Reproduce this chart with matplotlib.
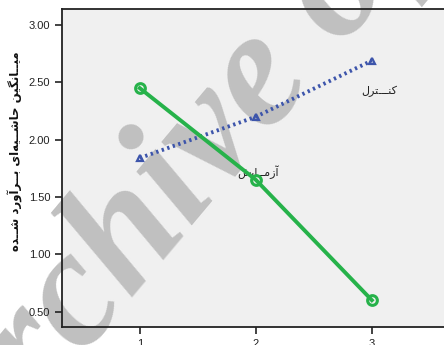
import matplotlib
matplotlib.use("Agg")
import matplotlib.pyplot as plt
from matplotlib.patches import Rectangle

plt.rcParams['font.family'] = ['Liberation Sans', 'DejaVu Sans']

# data
x = [1, 2, 3]
azmayesh = [2.45, 1.65, 0.60]   # green
control = [1.84, 2.20, 2.69]    # blue dotted
yticks = [0.5, 1.0, 1.5, 2.0, 2.5, 3.0]


def shape(codes):
    # pre-shaped persian (presentation forms), reversed for LTR drawing
    return ''.join(chr(c) for c in codes)[::-1]


K = 0x0640
lbl_control = shape([0xFB90, 0xFEE8, K, K, K, 0xFE98, 0xFEAE, 0xFEDD])
lbl_azm = shape([0xFE81, 0xFEAF, 0xFEE3, K, K, 0xFE8E, 0xFEF3, 0xFEB6])
ylab = shape([0xFEE3, 0xFEF4, K, K, 0xFE8E, 0xFEE7, 0xFB95, 0xFEF4, 0xFEE6, 0x20,
              0xFEA3, 0xFE8E, 0xFEB7, K, K, 0xFEF4, 0xFEEA, 0xFE8D, 0xFEEF, 0x20,
              0xFE91, K, K, 0xFEAE, 0xFE81, 0xFEED, 0xFEAD, 0xFEA9, 0x20,
              0xFEB7, K, K, 0xFEAA, 0xFEE9])
fa = ['DejaVu Sans']

fig = plt.figure(figsize=(4.44, 3.45), dpi=100)
ax = fig.add_axes([0.1396, 0.0522, 0.873, 0.9203])
ax.patch.set_visible(False)
ax.set_zorder(1)

# grey plot background + watermark under the axes
fig.patches.append(Rectangle((0.1396, 0.0522), 0.873, 0.9203, transform=fig.transFigure,
                             facecolor='#f0f0f0', edgecolor='none', zorder=-3))
fig.text(-0.06, -0.44, 'Archive of SID', transform=fig.transFigure, rotation=50,
         rotation_mode='anchor', ha='left', va='baseline', fontsize=120,
         family='Liberation Serif', style='italic', weight='bold',
         color='#c0c0c0', zorder=-2)

ax.plot(x, control, color='#3d55ab', lw=2.8, ls=(0, (0.6, 0.9)),
        marker='^', ms=5, mfc='none', mew=1.6, zorder=3)
ax.plot(x, azmayesh, color='#26b24a', lw=2.8,
        marker='o', ms=7, mfc='none', mew=2.2, zorder=4)

ax.text(3.06, 2.42, lbl_control, fontsize=8, ha='center', va='center',
        color='#222222', family=fa)
ax.text(2.02, 1.72, lbl_azm, fontsize=8, ha='center', va='center',
        color='#222222', family=fa)

ax.set_xlim(0.33, 3.67)
ax.set_ylim(0.366, 3.136)
ax.set_xticks(x)
ax.set_yticks(yticks)
ax.set_yticklabels(['%.2f' % v for v in yticks])
ax.tick_params(labelsize=8, length=5, width=1.2, color='#222222', labelcolor='#222222')
for s in ax.spines.values():
    s.set_linewidth(1.3)
    s.set_color('#222222')

fig.text(0.034, 1 - 151 / 345, ylab, rotation=90, ha='center', va='center',
         fontsize=8.5, weight='bold', color='#111111', family=fa)

fig.savefig('out.png', dpi=100)
